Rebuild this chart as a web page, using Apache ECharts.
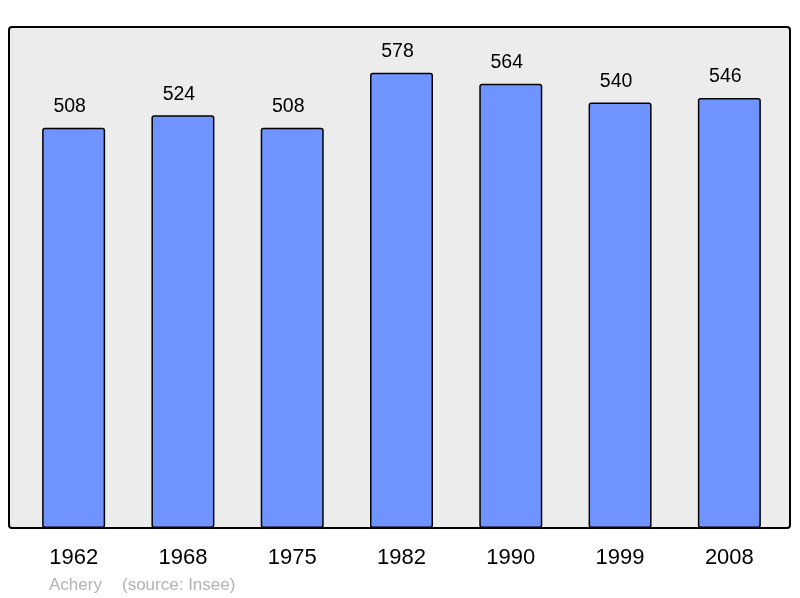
<!DOCTYPE html>
<html>
<head>
<meta charset="utf-8">
<script src="https://cdn.jsdelivr.net/npm/echarts@6/dist/echarts.min.js"></script>
<style>
  html, body { margin: 0; padding: 0; background: #fff; }
  #chart { width: 800px; height: 598px; }
</style>
</head>
<body>
<div id="chart"></div>
<script>
// population par recensement
var years = ['1962', '1968', '1975', '1982', '1990', '1999', '2008'];
var population = [508, 524, 508, 578, 564, 540, 546];

var chart = echarts.init(document.getElementById('chart'));
var font = 'Liberation Sans, Arial, sans-serif';

var option = {
  animation: false,
  backgroundColor: '#ffffff',
  graphic: [
    {
      type: 'rect',
      z: -10,
      shape: { x: 9, y: 27, width: 781, height: 501, r: 3 },
      style: { fill: '#ececec', stroke: '#000', lineWidth: 2 }
    },
    {
      type: 'text',
      x: 49,
      y: 585,
      style: {
        text: 'Achery',
        fill: '#b3b3b3',
        font: '17px ' + font,
        textVerticalAlign: 'middle'
      }
    },
    {
      type: 'text',
      x: 122,
      y: 585,
      style: {
        text: '(source: Insee)',
        fill: '#b3b3b3',
        font: '17px ' + font,
        textVerticalAlign: 'middle'
      }
    }
  ],
  grid: { left: 19, right: 16, top: 27, bottom: 70 },
  xAxis: {
    type: 'category',
    data: years,
    axisLine: { show: false },
    axisTick: { show: false },
    axisLabel: { color: '#000', fontSize: 22, fontFamily: font, margin: 19 }
  },
  yAxis: {
    type: 'value',
    min: 0,
    max: 636,
    show: false,
    splitLine: { show: false }
  },
  series: [{
    type: 'bar',
    data: population,
    barWidth: 63,
    itemStyle: {
      color: '#7094ff',
      borderColor: '#000',
      borderWidth: 1.5,
      borderRadius: 2
    },
    label: {
      show: true,
      position: 'top',
      distance: 11,
      offset: [-4, 0],
      color: '#000',
      fontSize: 19.5,
      fontFamily: font
    }
  }]
};

chart.setOption(option);
</script>
</body>
</html>
